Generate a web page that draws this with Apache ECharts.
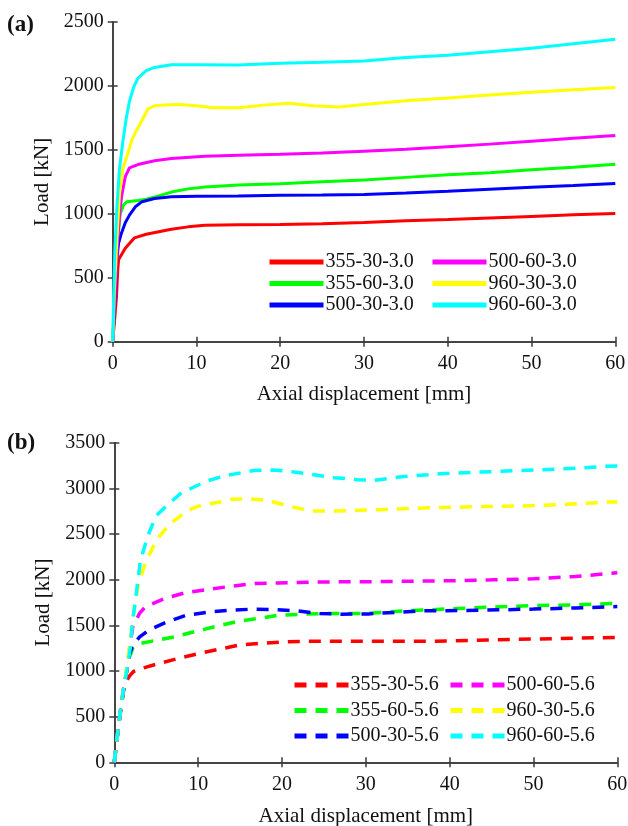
<!DOCTYPE html>
<html>
<head>
<meta charset="utf-8">
<title>Load - axial displacement</title>
<script src="https://cdn.jsdelivr.net/npm/echarts@6/dist/echarts.min.js"></script>
<style>
  html, body { margin: 0; padding: 0; background: #fff; }
  #main { width: 628px; height: 826px; }
</style>
</head>
<body>
<div id="main"></div>
<script type="text/javascript">
    // 数据 (a) t = 3.0 mm, [位移 mm, 荷载 kN]
    var namesA = ['355-30-3.0', '355-60-3.0', '500-30-3.0', '500-60-3.0', '960-30-3.0', '960-60-3.0'];
    var a355_30 = [[0,0],[0.2,150],[0.45,350],[0.6,560],[0.7,640],[1.5,730],[2.6,812],[4,840],[5.5,860],[7,880],[9,898],[11,910],[15,915],[20,917],[25,922],[30,932],[35,945],[40,955],[45,968],[50,980],[55,992],[60,1003]];
    var a355_60 = [[0,0],[0.3,400],[0.6,800],[0.9,1000],[1.3,1070],[1.7,1095],[3,1105],[4,1115],[5.5,1140],[7,1170],[9,1195],[11,1210],[15,1225],[20,1235],[25,1250],[30,1265],[35,1285],[40,1305],[45,1322],[50,1345],[55,1365],[60,1388]];
    var a500_30 = [[0,0],[0.3,350],[0.5,650],[0.7,770],[1,840],[1.5,930],[2,990],[2.7,1055],[3.5,1095],[5,1120],[7,1133],[10,1138],[15,1140],[20,1145],[25,1148],[30,1152],[35,1162],[40,1176],[45,1192],[50,1208],[55,1222],[60,1237]];
    var a500_60 = [[0,0],[0.3,400],[0.6,800],[0.9,1050],[1.1,1150],[1.5,1290],[2,1360],[3,1385],[5,1415],[7,1433],[11,1450],[15,1458],[20,1465],[25,1475],[30,1490],[35,1505],[40,1525],[45,1545],[50,1568],[55,1590],[60,1612]];
    var a960_30 = [[0,0],[0.2,400],[0.5,800],[0.8,1150],[1.2,1350],[1.7,1450],[2.3,1580],[2.9,1660],[3.5,1730],[4.2,1820],[5,1845],[6,1850],[8,1855],[10,1845],[12,1830],[15,1830],[18,1850],[21,1865],[24,1845],[27,1835],[30,1855],[35,1885],[40,1905],[45,1930],[50,1950],[55,1970],[60,1988]];
    var a960_60 = [[0,0],[0.1,300],[0.25,700],[0.5,1050],[0.8,1350],[1.2,1560],[1.6,1740],[2,1880],[2.5,1990],[3,2060],[4,2120],[5,2145],[7,2165],[10,2165],[15,2163],[20,2178],[25,2185],[30,2195],[35,2222],[40,2240],[45,2268],[50,2295],[55,2330],[60,2365]];

    // 数据 (b) t = 5.6 mm
    var namesB = ['355-30-5.6', '355-60-5.6', '500-30-5.6', '500-60-5.6', '960-30-5.6', '960-60-5.6'];
    var b355_30 = [[0,0],[0.3,230],[0.7,520],[1.1,780],[1.5,900],[1.9,955],[2.3,995],[3,1020],[4.9,1072],[7.2,1127],[9.6,1181],[12.4,1236],[14.8,1283],[17.2,1301],[20,1318],[23,1325],[30,1325],[35,1325],[40,1328],[45,1340],[50,1350],[55,1360],[60,1367]];
    var b355_60 = [[0,0],[0.3,250],[0.7,540],[1.1,800],[1.5,1010],[1.8,1150],[2.2,1250],[3,1300],[4.5,1327],[7.2,1374],[10,1440],[12.4,1494],[14.8,1545],[17.2,1575],[19.6,1611],[22.4,1622],[25,1630],[30,1630],[35,1660],[40,1680],[45,1700],[50,1715],[55,1725],[60,1740]];
    var b500_30 = [[0,0],[0.3,250],[0.7,540],[1.1,800],[1.5,1010],[1.8,1180],[2.2,1283],[3,1370],[4.1,1447],[6.3,1538],[8.6,1611],[11.4,1647],[14,1666],[16.4,1677],[19.2,1673],[21.8,1658],[24.5,1630],[27,1622],[30.3,1625],[36.6,1658],[43.7,1665],[50,1678],[55,1690],[60,1705]];
    var b500_60 = [[0,0],[0.3,250],[0.7,540],[1.1,800],[1.5,1010],[1.9,1300],[2.2,1483],[3,1630],[3.7,1702],[6,1794],[8.4,1855],[11.2,1895],[14,1928],[16.8,1958],[19.6,1964],[21.9,1970],[25,1975],[30,1978],[35,1982],[40,1988],[45,1998],[50,2010],[55,2035],[60,2075]];
    var b960_30 = [[0,0],[0.5,400],[1,750],[1.5,1050],[2,1400],[2.4,1700],[2.9,1960],[3.7,2180],[5,2430],[6.6,2610],[8.8,2760],[10.5,2820],[12.6,2850],[14,2880],[16,2887],[18,2870],[19.8,2832],[21.5,2790],[23.6,2752],[27,2752],[31.7,2767],[35,2780],[39,2790],[44,2800],[48.5,2807],[54,2825],[59,2850],[60,2850]];
    var b960_60 = [[0,0],[0.3,250],[0.7,540],[1.1,800],[1.5,1010],[1.9,1250],[2.1,1480],[2.5,1760],[3.1,2200],[4,2480],[5,2700],[6.6,2840],[8,2950],[9.5,3015],[11,3080],[13.3,3140],[16.6,3195],[19,3200],[21,3185],[22.9,3160],[26.2,3117],[29,3095],[31,3087],[34,3125],[38.9,3160],[43.7,3178],[50.8,3204],[55,3220],[58.3,3240],[60,3245]];

    var colors = ['#ff0000', '#00ff00', '#0000ff', '#ff00ff', '#ffff00', '#00ffff'];
    var xTicks = [0, 60, 10];          // min, max, interval
    var yTicksA = [0, 2500, 500];
    var yTicksB = [0, 3500, 500];

    var FONT = '"Liberation Serif", "DejaVu Serif", serif';
    var axisCol = '#3a3a3a';

    function plain(v) { return String(v); }

    function mainX(grid, gap) {
        return {
            gridIndex: grid, type: 'value', min: xTicks[0], max: xTicks[1], interval: xTicks[2],
            name: 'Axial displacement [mm]', nameLocation: 'middle', nameGap: gap,
            nameTextStyle: { fontFamily: FONT, fontSize: 21, color: '#111' },
            axisLine: { lineStyle: { color: axisCol, width: 1.5 } },
            axisTick: { inside: true, length: 5, lineStyle: { color: axisCol, width: 1.5 } },
            axisLabel: { fontFamily: FONT, fontSize: 20, color: '#111', margin: 12, formatter: plain },
            splitLine: { show: false }
        };
    }
    function mirrorX(grid) {
        return {
            gridIndex: grid, type: 'value', position: 'top', min: xTicks[0], max: xTicks[1], interval: xTicks[2],
            axisLine: { show: true, lineStyle: { color: axisCol, width: 1.5 } },
            axisTick: { inside: true, length: 5, lineStyle: { color: axisCol, width: 1.5 } },
            axisLabel: { show: false }, splitLine: { show: false }
        };
    }
    function mainY(grid, t) {
        return {
            gridIndex: grid, type: 'value', min: t[0], max: t[1], interval: t[2],
            name: 'Load [kN]', nameLocation: 'middle', nameGap: 47,
            nameTextStyle: { fontFamily: FONT, fontSize: 21, color: '#111' },
            axisLine: { show: true, lineStyle: { color: axisCol, width: 1.5 } },
            axisTick: { show: true, inside: true, length: 5, lineStyle: { color: axisCol, width: 1.5 } },
            axisLabel: { fontFamily: FONT, fontSize: 20, color: '#111', margin: 9, formatter: plain },
            splitLine: { show: false }
        };
    }
    function mirrorY(grid, t) {
        return {
            gridIndex: grid, type: 'value', position: 'right', min: t[0], max: t[1], interval: t[2],
            axisLine: { show: true, lineStyle: { color: axisCol, width: 1.5 } },
            axisTick: { show: true, inside: true, length: 5, lineStyle: { color: axisCol, width: 1.5 } },
            axisLabel: { show: false }, splitLine: { show: false }
        };
    }

    function mkSeries(name, data, i, xi, yi, dashed) {
        return {
            name: name, type: 'line', xAxisIndex: xi, yAxisIndex: yi, data: data,
            symbol: 'none', showSymbol: false, animation: false, z: 2 + i,
            lineStyle: { color: colors[i], width: dashed ? 3.5 : 3, type: dashed ? [12, 9] : 'solid' },
            itemStyle: { color: colors[i] }
        };
    }

    function mkLegend(names, left, top, gap) {
        return {
            orient: 'vertical', left: left, top: top, padding: 0, itemGap: gap,
            itemWidth: 54, itemHeight: 14, data: names, selectedMode: false,
            lineStyle: { width: 5 },
            itemStyle: { opacity: 0 },
            textStyle: { fontFamily: FONT, fontSize: 20, color: '#111', padding: [0, 0, 0, -3] }
        };
    }

    var dataA = [a355_30, a355_60, a500_30, a500_60, a960_30, a960_60];
    var dataB = [b355_30, b355_60, b500_30, b500_60, b960_30, b960_60];
    var series = [];
    for (var i = 0; i < 6; i++) {
        series.push(mkSeries(namesA[i], dataA[i], i, 0, 0, false));
        series.push(mkSeries(namesB[i], dataB[i], i, 2, 2, true));
    }

    var myChart = echarts.init(document.getElementById('main'), null, { renderer: 'canvas' });

    var option = {
        backgroundColor: '#fff',
        animation: false,
        grid: [
            { left: 112.7, top: 22, width: 502.6, height: 319.7, outerBoundsMode: 'none', containLabel: false },
            { left: 114.3, top: 442.7, width: 503, height: 319.6, outerBoundsMode: 'none', containLabel: false }
        ],
        xAxis: [mainX(0, 42), mirrorX(0), mainX(1, 44), mirrorX(1)],
        yAxis: [mainY(0, yTicksA), mirrorY(0, yTicksA), mainY(1, yTicksB), mirrorY(1, yTicksB)],
        legend: [
            mkLegend(namesA.slice(0, 3), 267, 252, 1.5),
            mkLegend(namesA.slice(3), 430, 252, 1.5),
            mkLegend(namesB.slice(0, 3), 292, 675, 5.5),
            mkLegend(namesB.slice(3), 448, 675, 5.5)
        ],
        graphic: [
            { type: 'text', left: 7, top: 14, style: { text: '(a)', font: 'bold 23px ' + FONT, fill: '#111' } },
            { type: 'text', left: 7, top: 432, style: { text: '(b)', font: 'bold 23px ' + FONT, fill: '#111' } }
        ],
        series: series
    };

    myChart.setOption(option);
</script>
</body>
</html>
